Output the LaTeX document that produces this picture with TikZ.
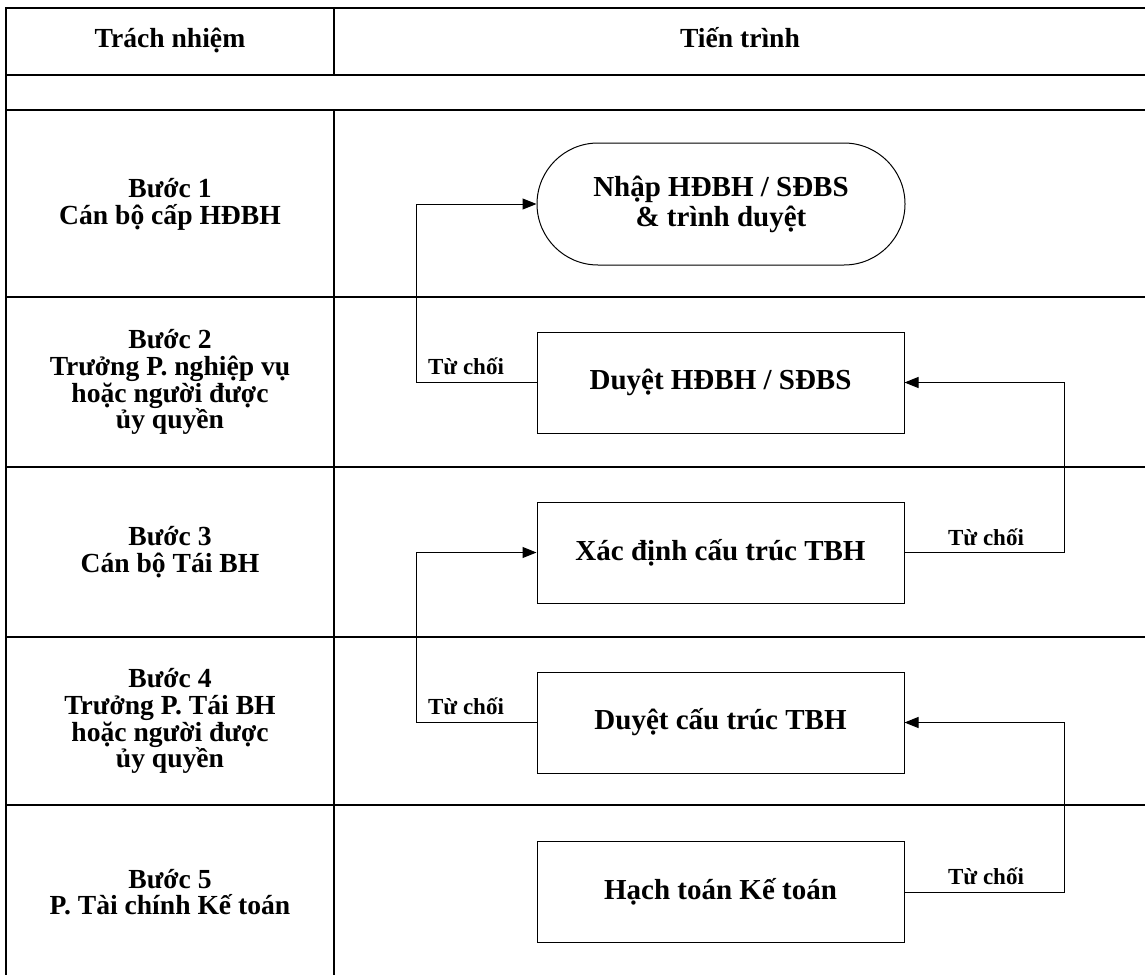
\documentclass[tikz,border=0pt]{standalone}
\usepackage{fontspec}
\setmainfont{Liberation Serif}
\usetikzlibrary{arrows.meta}

\begin{document}
\begin{tikzpicture}[x=0.5pt, y=-0.5pt,
    grid/.style={line width=1pt, line cap=rect},
    proc/.style={draw, line width=0.5pt, minimum width=183.5pt, minimum height=50.5pt,
        inner sep=0pt, align=center, font=\fontsize{14.5}{15}\selectfont\bfseries},
    role/.style={align=center, font=\fontsize{13.8}{13.4}\selectfont\bfseries},
    head/.style={anchor=base, font=\fontsize{13.8}{16}\selectfont\bfseries},
    lbl/.style={font=\fontsize{11.5}{13}\selectfont\bfseries},
    back/.style={line width=0.5pt, -{Triangle[length=7pt,width=5.5pt]}}]

    \useasboundingbox (0,0) rectangle (1145,974);

    % khung bang
    \draw [grid] (6,8) -- (1145,8);
    \draw [grid] (6,75) -- (1145,75);
    \draw [grid] (6,110) -- (1145,110);
    \foreach \y in {297,467,637,805}
        \draw [grid] (6,\y) -- (1145,\y);
    \draw [grid] (6,8) -- (6,974);
    \draw [grid] (334,8) -- (334,75);
    \draw [grid] (334,110) -- (334,974);

    \node [head] (hTN) at (170,48) {Trách nhiệm};
    \node [head] (hTT) at (740,48) {Tiến trình};

    % cot trach nhiem
    \node [role] (b1) at (170,204) {Bước 1\\Cán bộ cấp HĐBH};
    \node [role] (b2) at (170,382) {Bước 2\\Trưởng P. nghiệp vụ\\hoặc người được\\ủy quyền};
    \node [role] (b3) at (170,552) {Bước 3\\Cán bộ Tái BH};
    \node [role] (b4) at (170,721) {Bước 4\\Trưởng P. Tái BH\\hoặc người được\\ủy quyền};
    \node [role] (b5) at (170,892) {Bước 5\\P. Tài chính Kế toán};

    % tien trinh
    \node [proc, rounded corners=30.5pt, minimum height=61pt, minimum width=184pt] (nhap) at (721,204) {Nhập HĐBH / SĐBS\\\& trình duyệt};
    \node [proc] (duyet1) at (720.5,382.5) {Duyệt HĐBH / SĐBS};
    \node [proc] (xacdinh) at (720.5,552.5) {Xác định cấu trúc TBH};
    \node [proc] (duyet2) at (720.5,722.5) {Duyệt cấu trúc TBH};
    \node [proc] (hachtoan) at (720.5,892) {Hạch toán Kế toán};

    % tu choi
    \coordinate (L1) at (416,382.5);
    \draw [back] (duyet1.west) -- (L1) |- (nhap.west);
    \node [lbl] (tc1) at (466,366) {Từ chối};

    \coordinate (R1) at (1064,552.5);
    \draw [back] (xacdinh.east) -- (R1) |- (duyet1.east);
    \node [lbl] (tc2) at (986,537) {Từ chối};

    \coordinate (L2) at (416,722.5);
    \draw [back] (duyet2.west) -- (L2) |- (xacdinh.west);
    \node [lbl] (tc3) at (466,706) {Từ chối};

    \coordinate (R2) at (1064,892);
    \draw [back] (hachtoan.east) -- (R2) |- (duyet2.east);
    \node [lbl] (tc4) at (986,876) {Từ chối};

\end{tikzpicture}
\end{document}
